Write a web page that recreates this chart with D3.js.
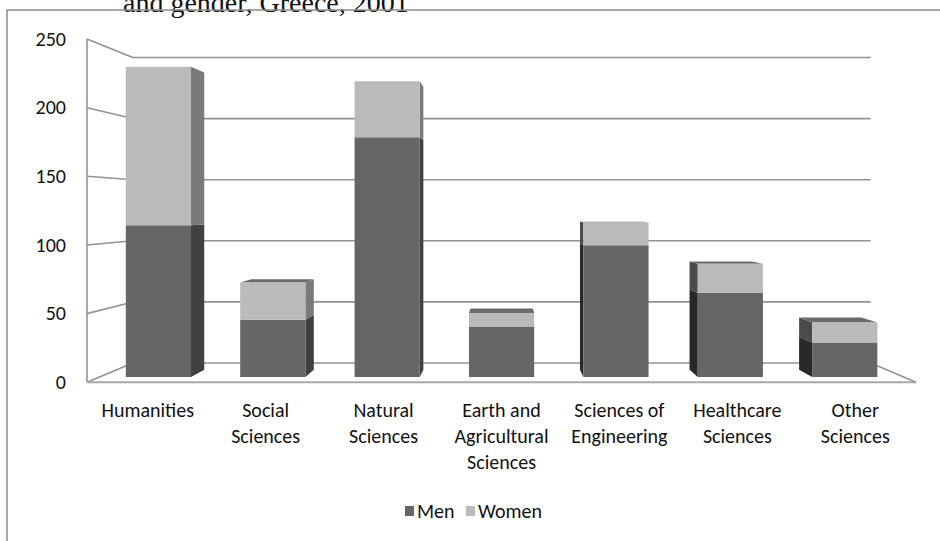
<!DOCTYPE html>
<html>
<head>
<meta charset="utf-8">
<script src="https://cdn.jsdelivr.net/npm/d3@7"></script>
<style>
  html, body { margin: 0; padding: 0; background: #fff; }
  svg { display: block; }
  .lbl { font-family: Carlito, Lato, "Open Sans", sans-serif; fill: #111; }
</style>
</head>
<body>
<svg id="chart" width="940" height="541"></svg>
<script>
// Doctoral graduates by field of study and gender
const categories = [
  "Humanities", "Social Sciences", "Natural Sciences",
  "Earth and Agricultural Sciences", "Sciences of Engineering",
  "Healthcare Sciences", "Other Sciences"
];
const categoryLines = [
  ["Humanities"], ["Social", "Sciences"], ["Natural", "Sciences"],
  ["Earth and", "Agricultural", "Sciences"], ["Sciences of", "Engineering"],
  ["Healthcare", "Sciences"], ["Other", "Sciences"]
];
const men   = [114, 43, 180, 38, 99, 63, 26];
const women = [119, 28, 42, 10, 17, 22, 15];
const seriesNames = ["Men", "Women"];
const yTicks = [0, 50, 100, 150, 200, 250];
const titleText = "and gender, Greece, 2001";

const svg = d3.select("#chart");

// Perspective: a point (X, Y) on the front plane, pushed back to depth factor s,
// is drawn along the ray towards the vanishing point.
const VP = { x: 504, y: 207 };
const proj = (X, Y, s) => [VP.x + (X - VP.x) * s, VP.y + (Y - VP.y) * s];
const S_FRONT = 1, S_BACK = 0.89, S_BAR_FRONT = 0.97, S_BAR_BACK = 0.929;

const x = d3.scaleBand().domain(categories).range([87, 916])
  .paddingInner(0.43).paddingOuter(0.23);
const y = d3.scaleLinear().domain([0, 250]).range([382.3, 39]);
const X0 = 87, X1 = 916;

const line = d3.line();
const poly = pts => "M" + pts.map(p => p.join(",")).join("L") + "Z";

// Title fragment above the frame
svg.append("text")
  .attr("x", 123).attr("y", 11.5)
  .attr("font-family", "'Liberation Serif', 'Times New Roman', serif")
  .attr("font-size", 28).attr("fill", "#111")
  .text(titleText);

// Chart frame
svg.append("rect")
  .attr("x", 7).attr("y", 10).attr("width", 1000).attr("height", 1000)
  .attr("fill", "none").attr("stroke", "#8a8a8a").attr("stroke-width", 1.5);

const grid = svg.append("g").attr("stroke", "#939393").attr("stroke-width", 1.6)
  .attr("fill", "none");

// Side wall and back wall gridlines
yTicks.forEach(t => {
  const yy = y(t);
  grid.append("path").attr("d", line([proj(X0, yy, S_FRONT), proj(X0, yy, S_BACK)]));
  grid.append("path").attr("d", line([proj(X0, yy, S_BACK), proj(X1, yy, S_BACK)]));
});
// Front edge of side wall
grid.append("path").attr("d", line([proj(X0, y(0), S_FRONT), proj(X0, y(250), S_FRONT)]));
// Floor front and right edges
grid.append("path").attr("stroke", "#a8a8a8").attr("stroke-width", 2)
  .attr("d", line([proj(X0, y(0), S_FRONT), proj(X1, y(0), S_FRONT)]));
grid.append("path").attr("d", line([proj(X1, y(0), S_FRONT), proj(X1, y(0), S_BACK)]));

// Y axis labels
svg.append("g").selectAll("text").data(yTicks).join("text")
  .attr("class", "lbl")
  .attr("x", 66).attr("y", d => y(d) + 2)
  .attr("text-anchor", "end").attr("dominant-baseline", "middle")
  .attr("font-size", 20)
  .text(d => d);

// Stacked boxes
const table = categories.map((c, i) => ({ cat: c, Men: men[i], Women: women[i] }));
const stacked = d3.stack().keys(seriesNames)(table);

const palette = {
  Men:   { front: "#666666", right: "#404040", left: "#282828", top: "#5a5a5a" },
  Women: { front: "#bababa", right: "#7a7a7a", left: "#4b4b4b", top: "#6c6c6c" }
};

const bars = svg.append("g");
categories.forEach((c, i) => {
  const xa = x(c), xb = x(c) + x.bandwidth();
  stacked.forEach((layer, li) => {
    const [v0, v1] = layer[i];
    const ya = y(v0), yb = y(v1);
    const col = palette[layer.key];
    const g = bars.append("g");
    const sf = S_BAR_FRONT, sb = S_BAR_BACK;
    if (xb < VP.x) {
      g.append("path").attr("fill", col.right)
        .attr("d", poly([proj(xb, ya, sf), proj(xb, ya, sb), proj(xb, yb, sb), proj(xb, yb, sf)]));
    }
    if (xa > VP.x) {
      g.append("path").attr("fill", col.left)
        .attr("d", poly([proj(xa, ya, sf), proj(xa, ya, sb), proj(xa, yb, sb), proj(xa, yb, sf)]));
    }
    if (li === stacked.length - 1 && yb > VP.y) {
      g.append("path").attr("fill", col.top)
        .attr("d", poly([proj(xa, yb, sf), proj(xb, yb, sf), proj(xb, yb, sb), proj(xa, yb, sb)]));
    }
    g.append("path").attr("fill", col.front)
      .attr("d", poly([proj(xa, ya, sf), proj(xb, ya, sf), proj(xb, yb, sf), proj(xa, yb, sf)]));
  });
});

// Category labels
const cl = svg.append("g");
categories.forEach((c, i) => {
  const cx = x(c) + x.bandwidth() / 2;
  const t = cl.append("text").attr("class", "lbl")
    .attr("text-anchor", "middle").attr("font-size", 20);
  categoryLines[i].forEach((ln, k) => {
    t.append("tspan").attr("x", cx).attr("y", 417 + k * 26).text(ln);
  });
});

// Legend
const legendItems = [
  { key: "Men", x: 405 },
  { key: "Women", x: 466 }
];
const lg = svg.append("g");
legendItems.forEach(d => {
  lg.append("rect").attr("x", d.x).attr("y", 506).attr("width", 9).attr("height", 10)
    .attr("fill", palette[d.key].front);
  lg.append("text").attr("class", "lbl").attr("x", d.x + 12).attr("y", 518)
    .attr("font-size", 20).text(d.key);
});
</script>
</body>
</html>
